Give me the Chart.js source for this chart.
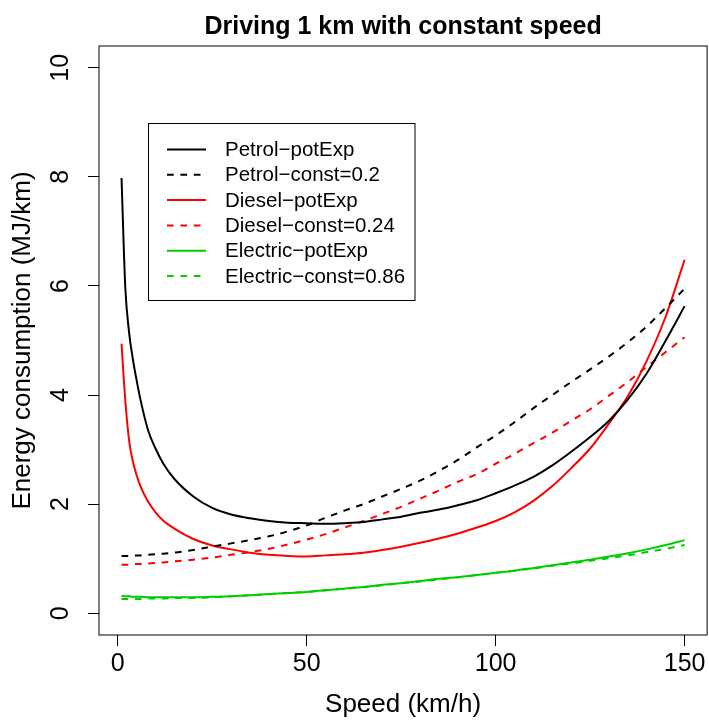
<!DOCTYPE html>
<html>
<head>
<meta charset="utf-8">
<script src="https://cdn.jsdelivr.net/npm/chart.js@4.4.1/dist/chart.umd.min.js"></script>
<style>
  body { margin: 0; background: #fff; }
  canvas { display: block; }
</style>
</head>
<body>
<canvas id="energyChart" width="709" height="720"></canvas>
<script>
// speed (km/h) and energy use (MJ/km)
const speed = [1, 2, 3, 4, 5, 6, 8, 10, 12, 15, 20, 25, 30, 35, 40, 45, 50, 55, 60, 65, 70, 75, 80, 85, 90, 95, 100, 105, 110, 115, 120, 125, 130, 135, 140, 145, 150];
const petrolPotExp = [7.98, 5.97, 5.15, 4.66, 4.27, 3.92, 3.36, 3.02, 2.75, 2.46, 2.14, 1.93, 1.81, 1.74, 1.69, 1.66, 1.65, 1.64, 1.65, 1.67, 1.72, 1.77, 1.84, 1.90, 1.98, 2.07, 2.20, 2.34, 2.50, 2.71, 2.96, 3.23, 3.53, 3.92, 4.40, 5.00, 5.63];
const petrolConst = [1.05, 1.05, 1.05, 1.06, 1.06, 1.06, 1.07, 1.08, 1.09, 1.11, 1.16, 1.22, 1.28, 1.34, 1.41, 1.50, 1.61, 1.75, 1.88, 2.00, 2.14, 2.28, 2.43, 2.61, 2.81, 3.04, 3.26, 3.50, 3.76, 4.00, 4.24, 4.47, 4.71, 4.97, 5.26, 5.60, 5.95];
const dieselPotExp = [4.94, 3.90, 3.17, 2.78, 2.53, 2.33, 2.05, 1.85, 1.70, 1.55, 1.36, 1.24, 1.17, 1.11, 1.07, 1.05, 1.04, 1.06, 1.08, 1.11, 1.16, 1.22, 1.29, 1.37, 1.46, 1.57, 1.69, 1.85, 2.06, 2.33, 2.66, 3.02, 3.48, 3.98, 4.63, 5.44, 6.48];
const dieselConst = [0.89, 0.89, 0.89, 0.90, 0.90, 0.90, 0.91, 0.92, 0.93, 0.95, 0.98, 1.02, 1.07, 1.12, 1.18, 1.26, 1.35, 1.45, 1.57, 1.69, 1.82, 1.95, 2.10, 2.25, 2.41, 2.55, 2.74, 2.92, 3.12, 3.31, 3.53, 3.74, 3.99, 4.24, 4.52, 4.79, 5.06];
const electricPotExp = [0.32, 0.31, 0.31, 0.30, 0.30, 0.30, 0.29, 0.29, 0.29, 0.29, 0.29, 0.30, 0.31, 0.33, 0.35, 0.37, 0.39, 0.42, 0.45, 0.48, 0.52, 0.55, 0.59, 0.63, 0.66, 0.70, 0.74, 0.78, 0.83, 0.88, 0.93, 0.98, 1.04, 1.10, 1.17, 1.25, 1.34];
const electricConst = [0.26, 0.26, 0.26, 0.26, 0.26, 0.26, 0.27, 0.27, 0.27, 0.28, 0.28, 0.29, 0.31, 0.33, 0.35, 0.37, 0.39, 0.42, 0.45, 0.48, 0.51, 0.55, 0.58, 0.62, 0.66, 0.70, 0.74, 0.78, 0.82, 0.87, 0.91, 0.96, 1.01, 1.06, 1.12, 1.18, 1.25];

const xTicks = [0, 50, 100, 150];
const yTicks = [0, 2, 4, 6, 8, 10];

const FONT = '"Liberation Sans", Arial, Helvetica, sans-serif';
const DASH = [6.7, 6.7];

function series(label, values, color, dashed) {
    return {
        label: label,
        data: speed.map((s, i) => ({ x: s, y: values[i] })),
        borderColor: color,
        backgroundColor: color,
        borderWidth: 2,
        borderDash: dashed ? DASH : [],
        pointRadius: 0,
        cubicInterpolationMode: 'monotone',
        fill: false
    };
}

// R style: box round the plot, title centred over the plot region, legend box inside
const rStyle = {
    id: 'rStyle',
    afterDraw(chart) {
        const { ctx, chartArea: a } = chart;
        ctx.save();
        ctx.strokeStyle = '#000';
        ctx.lineWidth = 1;
        ctx.strokeRect(a.left, a.top, a.right - a.left, a.bottom - a.top);

        ctx.fillStyle = '#000';
        ctx.font = 'bold 25px ' + FONT;
        ctx.textAlign = 'center';
        ctx.textBaseline = 'alphabetic';
        ctx.fillText('Driving 1 km with constant speed', (a.left + a.right) / 2, 34);

        // legend
        const bx = 148.5, by = 123.5, bw = 266.5, bh = 177;
        ctx.strokeStyle = '#000';
        ctx.strokeRect(bx, by, bw, bh);
        ctx.font = '20.5px ' + FONT;
        ctx.textAlign = 'left';
        ctx.textBaseline = 'middle';
        chart.data.datasets.forEach((ds, i) => {
            const y = 149.5 + i * 25.3;
            ctx.beginPath();
            ctx.setLineDash(ds.borderDash);
            ctx.strokeStyle = ds.borderColor;
            ctx.lineWidth = 2;
            ctx.moveTo(167, y);
            ctx.lineTo(206, y);
            ctx.stroke();
            ctx.setLineDash([]);
            ctx.fillStyle = '#000';
            ctx.fillText(ds.label, 225, y + 1);
        });
        ctx.restore();
    }
};

new Chart(document.getElementById('energyChart'), {
    type: 'line',
    data: {
        datasets: [
            series('Petrol\u2212potExp', petrolPotExp, '#000000', false),
            series('Petrol\u2212const=0.2', petrolConst, '#000000', true),
            series('Diesel\u2212potExp', dieselPotExp, '#FF0000', false),
            series('Diesel\u2212const=0.24', dieselConst, '#FF0000', true),
            series('Electric\u2212potExp', electricPotExp, '#00CD00', false),
            series('Electric\u2212const=0.86', electricConst, '#00CD00', true)
        ]
    },
    options: {
        responsive: false,
        animation: false,
        layout: { padding: { top: 46, right: 1, left: 0, bottom: 0 } },
        plugins: { legend: { display: false }, title: { display: false }, tooltip: { enabled: false } },
        scales: {
            x: {
                type: 'linear',
                min: -4.96,
                max: 155.96,
                afterBuildTicks: (scale) => { scale.ticks = xTicks.map(v => ({ value: v })); },
                afterFit: (scale) => { scale.height = 85; },
                grid: { display: true, drawOnChartArea: false, drawTicks: true, tickLength: 11, color: '#000', lineWidth: 1 },
                border: { display: false },
                ticks: { color: '#000', padding: 3.5, maxRotation: 0, font: { family: FONT, size: 25 } },
                title: { display: true, text: 'Speed (km/h)', color: '#000', padding: { top: 0, bottom: 0 }, font: { family: FONT, size: 26, lineHeight: 1.2 } }
            },
            y: {
                type: 'linear',
                min: -0.4,
                max: 10.4,
                afterBuildTicks: (scale) => { scale.ticks = yTicks.map(v => ({ value: v })); },
                afterFit: (scale) => { scale.width = 99; },
                grid: { display: true, drawOnChartArea: false, drawTicks: true, tickLength: 11, color: '#000', lineWidth: 1 },
                border: { display: false },
                ticks: { color: '#000', padding: 13, minRotation: 90, maxRotation: 90, crossAlign: 'center', font: { family: FONT, size: 25 } },
                title: { display: true, text: 'Energy consumption (MJ/km)', color: '#000', padding: { top: 7, bottom: 0 }, font: { family: FONT, size: 26, lineHeight: 1.2 } }
            }
        }
    },
    plugins: [rStyle]
});
</script>
</body>
</html>
